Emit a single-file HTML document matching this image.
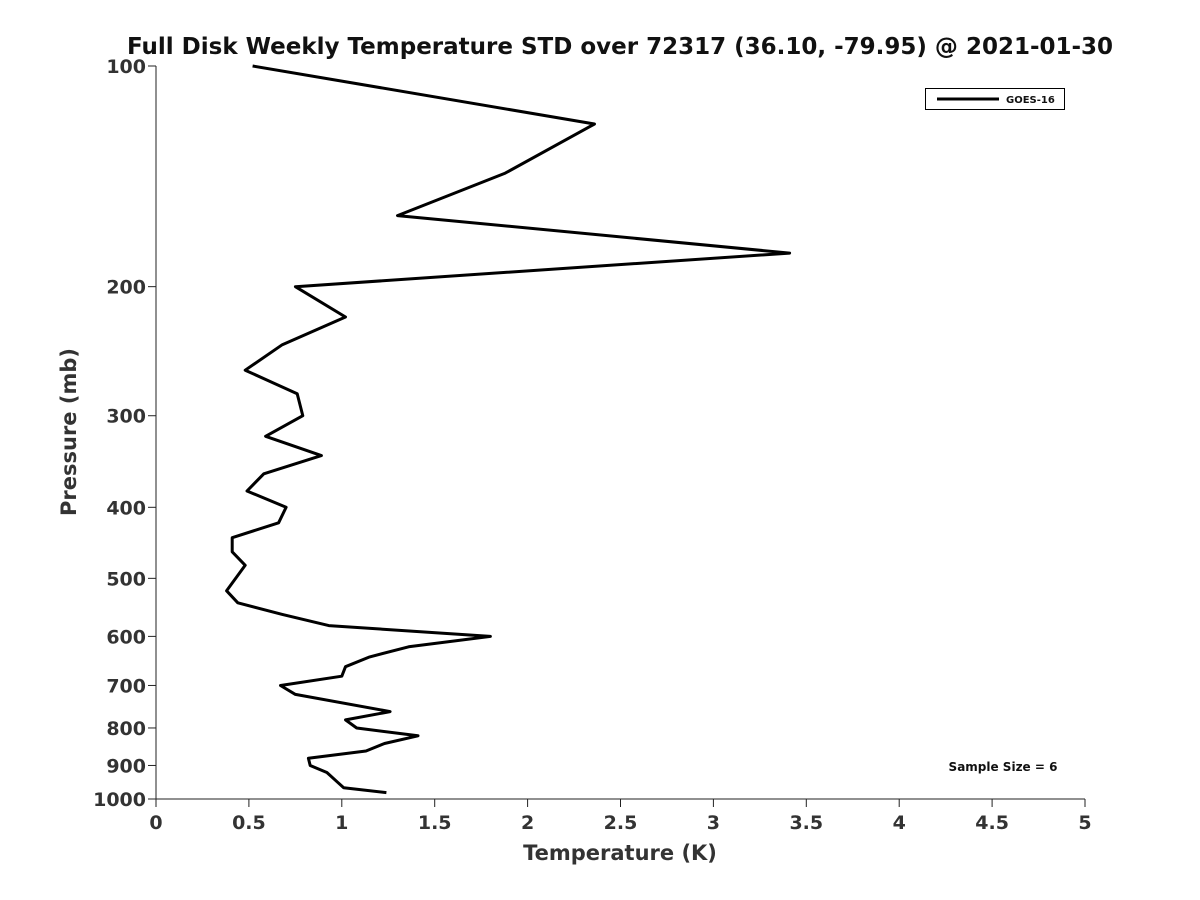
<!DOCTYPE html>
<html><head><meta charset="utf-8"><style>
body{margin:0;background:#fff;}
svg{display:block;font-family:"DejaVu Sans","Liberation Sans",sans-serif;font-weight:bold;}
</style></head><body>
<svg id="chart" width="1200" height="900" viewBox="0 0 1200 900">
<text x="620" y="54" text-anchor="middle" font-size="23" fill="#111">Full Disk Weekly Temperature STD over 72317 (36.10, -79.95) @ 2021-01-30</text>
<g id="axes"></g>
<polyline id="series" fill="none" stroke="#000" stroke-width="3" stroke-linejoin="round"></polyline>
<g>
<rect x="925.5" y="88.5" width="139" height="21" fill="#fff" stroke="#000" stroke-width="1"></rect>
<line x1="937" y1="99" x2="999" y2="99" stroke="#000" stroke-width="3"></line>
<text x="1006" y="103" font-size="10" fill="#111">GOES-16</text>
</g>
<text x="1003" y="771" text-anchor="middle" font-size="12" fill="#111">Sample Size = 6</text>
<text x="620" y="860" text-anchor="middle" font-size="21" fill="#333">Temperature (K)</text>
<text transform="translate(76,432) rotate(-90)" text-anchor="middle" font-size="21" fill="#333">Pressure (mb)</text>
</svg>
<script>
const temps=[0.52,2.36,1.88,1.30,3.41,0.75,1.02,0.68,0.48,0.76,0.79,0.59,0.89,0.58,0.49,0.70,0.66,0.41,0.41,0.48,0.38,0.44,0.68,0.93,1.80,1.36,1.15,1.02,1.00,0.67,0.75,1.26,1.02,1.08,1.41,1.23,1.13,0.82,0.83,0.92,0.98,1.01,1.24];
const pressures=[100,120,140,160,180,200,220,240,260,280,300,320,340,360,380,400,420,440,460,480,520,540,560,580,600,620,640,660,680,700,720,760,780,800,820,840,860,880,900,920,950,965,980];
const xTicks=[0,0.5,1,1.5,2,2.5,3,3.5,4,4.5,5];
const yTicks=[100,200,300,400,500,600,700,800,900,1000];
const L=156,R=1085,T=66,B=799;
function xs(v){return L+(v/5)*(R-L);}
function ys(p){return T+(Math.log10(p)-2)*(B-T);}
const NS='http://www.w3.org/2000/svg';
const ax=document.getElementById('axes');
function mk(tag,attrs){const e=document.createElementNS(NS,tag);for(const k in attrs)e.setAttribute(k,attrs[k]);ax.appendChild(e);return e;}
let e=mk('line',{x1:L,y1:T,x2:L,y2:B+0.5,stroke:'#222','stroke-width':1});


e=mk('line',{x1:L,y1:B,x2:R,y2:B,stroke:'#222','stroke-width':1});


xTicks.forEach(v=>{const x=xs(v);
 mk('line',{x1:x,y1:B,x2:x,y2:B+8,stroke:'#222','stroke-width':1});
 const t=mk('text',{x:x,y:B+30,'text-anchor':'middle','font-size':19,fill:'#333'});t.textContent=v;
 
 });
yTicks.forEach(p=>{const y=ys(p);
 mk('line',{x1:L-8,y1:y,x2:L,y2:y,stroke:'#222','stroke-width':1});
 const t=mk('text',{x:L-10,y:y+7,'text-anchor':'end','font-size':19,fill:'#333'});t.textContent=p;
 
 });
document.getElementById('series').setAttribute('points',temps.map((t,i)=>xs(t).toFixed(1)+','+ys(pressures[i]).toFixed(1)).join(' '));
</script>
</body></html>
